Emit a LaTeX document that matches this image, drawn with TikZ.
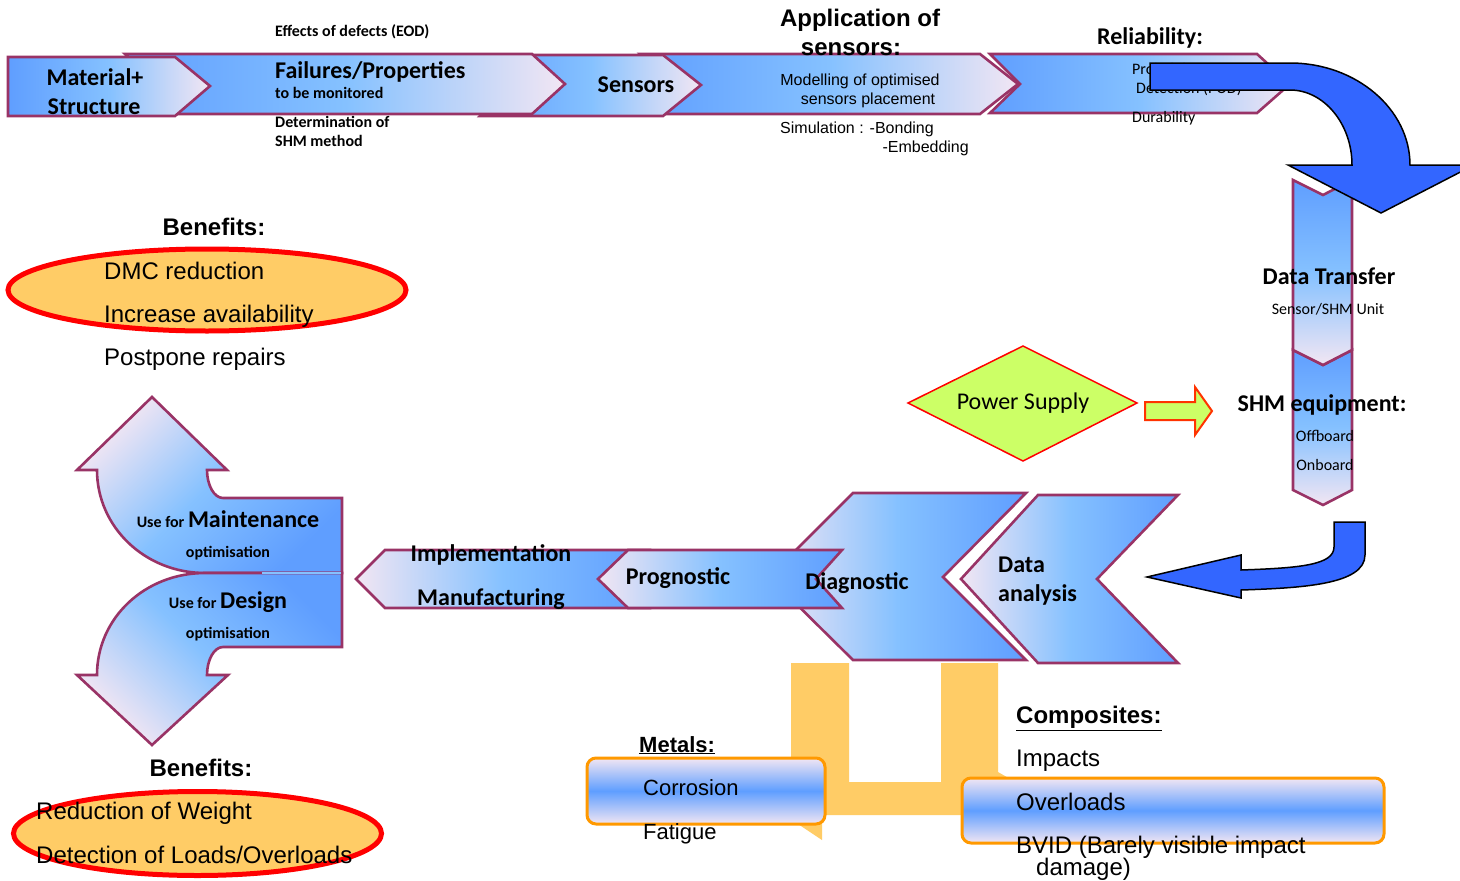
\documentclass[tikz,border=0pt]{standalone}
\usepackage{fontspec}
\setmainfont{Liberation Sans}
\newfontfamily\carlito{Carlito}
\definecolor{cBlue}{RGB}{95,158,255}
\definecolor{cSky}{RGB}{133,193,255}
\definecolor{cPale}{RGB}{242,230,243}
\definecolor{cEdge}{RGB}{153,51,102}
\definecolor{aBlue}{RGB}{51,102,255}
\definecolor{oFill}{RGB}{255,204,102}
\definecolor{oEdge}{RGB}{255,153,0}
\definecolor{gFill}{RGB}{204,255,102}
\definecolor{gEdge}{RGB}{255,51,0}
\begin{document}
\begin{tikzpicture}[x=1pt,y=-1pt,
  edge/.style={draw=cEdge, line width=2.6pt, line join=miter},
  hgrad/.style={left color=cBlue, right color=cPale, middle color=cSky},
  rgrad/.style={left color=cPale, right color=cBlue, middle color=cSky},
  vgrad/.style={top color=cBlue, bottom color=cPale, middle color=cSky},
  bgrad/.style={top color=cPale, bottom color=cPale, middle color=cBlue},
  bigarrow/.style={fill=aBlue, draw=black, line width=1.5pt, line join=miter},
  benefit/.style={fill=oFill, draw=red, line width=5pt},
  infobox/.style={draw=oEdge, line width=3pt, rounded corners=9pt, bgrad},
  cbA/.style={font=\carlito\bfseries\fontsize{24}{28}\selectfont, inner sep=0pt},
  cbB/.style={font=\carlito\bfseries\fontsize{16}{19}\selectfont, inner sep=0pt},
  crA/.style={font=\carlito\fontsize{24}{28}\selectfont, inner sep=0pt},
  crB/.style={font=\carlito\fontsize{16}{19}\selectfont, inner sep=0pt},
  abA/.style={font=\bfseries\fontsize{24}{28}\selectfont, inner sep=0pt},
  abB/.style={font=\bfseries\fontsize{22}{26}\selectfont, inner sep=0pt},
  arA/.style={font=\fontsize{24}{28}\selectfont, inner sep=0pt},
  arB/.style={font=\fontsize{22}{26}\selectfont, inner sep=0pt},
  arC/.style={font=\fontsize{16}{19}\selectfont, inner sep=0pt}]

\useasboundingbox (0,0) rectangle (1460,881);
\clip (0,0) rectangle (1460,881);
\fill[white] (0,0) rectangle (1460,881);

% ---------- top process chain ----------
\draw[edge, hgrad] (990,54) -- (1257,54) -- (1290,84) -- (1257,113) -- (990,113) -- (1020,84) -- cycle;
\draw[edge, hgrad] (640,54) -- (980,54) -- (1018,84) -- (980,114) -- (640,114) -- (672,84) -- cycle;
\draw[edge, hgrad] (480,55) -- (663,55) -- (701,85) -- (663,116) -- (480,116) -- (512,85) -- cycle;
\draw[edge, hgrad] (125,54) -- (532,54) -- (565,84) -- (532,114) -- (125,114) -- (158,84) -- cycle;
\draw[edge, hgrad] (8,57) -- (175,57) -- (210,86) -- (175,116) -- (8,116) -- cycle;

\node[cbA, anchor=base] (mat1) at (95,85) {Material+};
\node[cbA, anchor=base] (mat2) at (94,114) {Structure};
\node[cbB, anchor=base west] (eod) at (275,36.5) {Effects of defects (EOD)};
\node[cbA, anchor=base west] (fail) at (275,78) {Failures/Properties};
\node[cbB, anchor=base west] (mon) at (275,98.5) {to be monitored};
\node[cbB, anchor=base west] (det1) at (275,127.5) {Determination of};
\node[cbB, anchor=base west] (det2) at (275,146.5) {SHM method};
\node[cbA, anchor=base] (sens) at (636,92) {Sensors};
\node[abA, anchor=base] (app1) at (860,26.5) {Application of};
\node[abA, anchor=base] (app2) at (851,55) {sensors:};
\node[arC, anchor=base] (mod1) at (860,85.7) {Modelling of optimised};
\node[arC, anchor=base] (mod2) at (868,104.7) {sensors placement};
\node[arC, anchor=base west] (sim1) at (780,133.7) {Simulation : -Bonding};
\node[arC, anchor=base east] (sim2) at (969,152.7) {-Embedding};
\node[cbA, anchor=base] (rel) at (1150,44) {Reliability:};
\node[crB, anchor=base west] (pod1) at (1132,74.5) {Probability of};
\node[crB, anchor=base west] (pod2) at (1136,93.5) {Detection (POD)};
\node[crB, anchor=base west] (dur) at (1132,122.5) {Durability};

% ---------- vertical chain on the right ----------
\draw[edge, vgrad] (1293,350) -- (1323,365) -- (1352,350) -- (1352,490) -- (1323,505) -- (1293,490) -- cycle;
\draw[edge, vgrad] (1293,180) -- (1323,195) -- (1352,180) -- (1352,350) -- (1323,365) -- (1293,350) -- cycle;

% turning arrow from the top chain down to the data transfer
\draw[bigarrow] (1150,63) -- (1290,63) .. controls (1356,63) and (1410,109) .. (1410,165)
  -- (1474,165) -- (1381,213) -- (1288,165) -- (1352,165)
  .. controls (1352,124) and (1324,90) .. (1290,90) -- (1150,90) -- cycle;

\node[cbA, anchor=base] (dt) at (1329,284) {Data Transfer};
\node[crB, anchor=base] (unit) at (1328,314.5) {Sensor/SHM Unit};
\node[cbA, anchor=base] (shm) at (1322,411) {SHM equipment:};
\node[crB, anchor=base] (off) at (1325,441.5) {Offboard};
\node[crB, anchor=base] (on) at (1325,470.5) {Onboard};

% ---------- power supply ----------
\draw[fill=gFill, draw=red, line width=1.5pt] (908,403) -- (1023,346) -- (1137,403) -- (1023,461) -- cycle;
\node[crA, anchor=base] (pow) at (1023,409) {Power Supply};
\draw[fill=gFill, draw=gEdge, line width=2pt, line join=miter]
  (1145,402) -- (1195,402) -- (1195,387) -- (1212,411) -- (1195,435) -- (1195,420) -- (1145,420) -- cycle;

% ---------- material specific damages ----------
\fill[oFill] (791,663) -- (849,663) -- (849,782) -- (941,782) -- (941,663) -- (998,663) -- (998,772)
  -- (1012,780) -- (1012,815) -- (822,815) -- (822,840) -- (798,824) -- (791,824) -- cycle;
\draw[infobox] (587,758) rectangle (825,824);
\draw[infobox] (962,778) rectangle (1384,843);

\node[abB, anchor=base west] (met) at (639,752) {\underline{Metals:}};
\node[arB, anchor=base west] (cor) at (643,795) {Corrosion};
\node[arB, anchor=base west] (fat) at (643,839) {Fatigue};
\node[abA, anchor=base west] (comp) at (1016,723.5) {\underline{Composites:}};
\node[arA, anchor=base west] (imp) at (1016,766.5) {Impacts};
\node[arA, anchor=base west] (ovl) at (1016,810.5) {Overloads};
\node[arA, anchor=base west] (bvid1) at (1016,853.5) {BVID (Barely visible impact};
\node[arA, anchor=base west] (bvid2) at (1036,875.5) {damage)};

% ---------- lower process chain (right to left) ----------
\draw[edge, rgrad] (1038,495) -- (1178,495) -- (1097,579) -- (1178,663) -- (1038,663) -- (961,579) -- cycle;
\draw[edge, rgrad] (853,493) -- (1026,493) -- (943,577) -- (1026,660) -- (853,660) -- (769,577) -- cycle;
\draw[edge, rgrad] (385,550) -- (650,550) -- (650,608) -- (385,608) -- (356,579) -- cycle;
\draw[edge, rgrad] (628,550) -- (842,550) -- (816,579) -- (842,608) -- (628,608) -- (598,579) -- cycle;

\draw[bigarrow] (1334,522) -- (1365,522) -- (1365,555) .. controls (1365,585) and (1300,588) .. (1241,590)
  -- (1241,598) -- (1147,577) -- (1241,555) -- (1241,570)
  .. controls (1300,568) and (1334,565) .. (1334,547) -- cycle;

\node[cbA, anchor=base] (impl) at (491,561) {Implementation};
\node[cbA, anchor=base] (manu) at (491,605) {Manufacturing};
\node[cbA, anchor=base] (prog) at (678,584) {Prognostic};
\node[cbA, anchor=base] (diag) at (857,589) {Diagnostic};
\node[cbA, anchor=base west] (da1) at (998,572) {Data};
\node[cbA, anchor=base west] (da2) at (998,601) {analysis};

% ---------- split arrow: maintenance / design ----------
\draw[edge, top color=cPale, bottom color=cBlue, middle color=cSky, shading angle=45]
  (205,573) -- (342,573) -- (342,498) -- (223,498) .. controls (214,498) and (207,485) .. (207,470)
  -- (227,470) -- (152,397) -- (77,470) -- (97,470) .. controls (97,527) and (145,573) .. (205,573) -- cycle;
\draw[edge, top color=cBlue, bottom color=cPale, middle color=cSky, shading angle=-45]
  (205,573) -- (342,573) -- (342,647) -- (223,647) .. controls (214,647) and (207,660) .. (207,675)
  -- (228,675) -- (152,745) -- (77,675) -- (97,675) .. controls (97,618) and (145,573) .. (205,573) -- cycle;
\draw[cSky, line width=2.2pt] (262,573) -- (340.7,573);

\node[cbB, anchor=base] (mnt) at (228,527) {Use for {\fontsize{24}{28}\selectfont Maintenance}};
\node[cbB, anchor=base] (opt1) at (228,557.5) {optimisation};
\node[cbB, anchor=base] (dsg) at (228,608) {Use for {\fontsize{24}{28}\selectfont Design}};
\node[cbB, anchor=base] (opt2) at (228,638.5) {optimisation};

% ---------- benefits ----------
\node[abA, anchor=base] (ben1) at (214,235.5) {Benefits:};
\draw[benefit] (207,290) ellipse [x radius=199, y radius=41];
\node[arA, anchor=base west] (b11) at (104,279.5) {DMC reduction};
\node[arA, anchor=base west] (b12) at (104,322.5) {Increase availability};
\node[arA, anchor=base west] (b13) at (104,365.5) {Postpone repairs};

\node[abA, anchor=base] (ben2) at (201,776.5) {Benefits:};
\draw[benefit] (197.5,833.5) ellipse [x radius=184, y radius=42];
\node[arA, anchor=base west] (b21) at (36,819.5) {Reduction of Weight};
\node[arA, anchor=base west] (b22) at (36,863.5) {Detection of Loads/Overloads};

\end{tikzpicture}
\end{document}
